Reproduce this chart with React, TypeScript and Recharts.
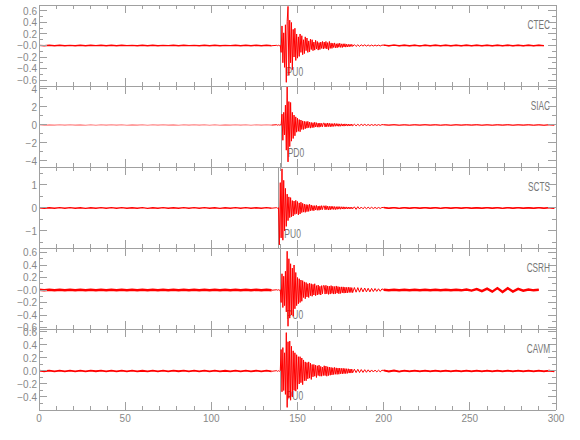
import React from 'react';
import { LineChart, Line, XAxis, YAxis, ReferenceLine } from 'recharts';

// ---- time grid segments (seconds): [start, step] ----
const PRE_GRID: [number, number] = [0, 3];
const ONSET_GRID: [number, number] = [138, 0.5];
const CODA_GRID: [number, number] = [165.5, 0.5];
const TAIL_GRID: [number, number] = [183, 1];
const POST_GRID: [number, number] = [200, 3];

// ---- x axis ticks ----
const X_TICKS = [0, 10, 20, 30, 40, 50, 60, 70, 80, 90, 100, 110, 120, 130, 140, 150, 160, 170, 180, 190, 200, 210, 220, 230, 240, 250, 260, 270, 280, 290, 300];
const X_LABELED = [0, 50, 100, 150, 200, 250, 300];

// ---- CTEC ----
const CTEC_PRE = [0.003,-0.004,0.005,-0.003,0.004,-0.005,0.002,-0.004,0.005,-0.003,0.004,-0.002,0.005,-0.004,0.003,-0.005,0.004,-0.003,0.002,-0.004,0.005,-0.003,0.004,-0.005,0.003,-0.002,0.004,-0.004,0.005,-0.003,0.002,-0.005,0.004,-0.003,0.005,-0.004,0.003,-0.002,0.004,-0.005,0.003,-0.004,0.005,-0.003,0.004,-0.004];
const CTEC_ONSET = [0.003,-0.004,0.004,-0.003,0.005,-0.12,0.34,-0.3,0.22,-0.38,0.36,-0.64,0.42,0.68,-0.52,0.44,-0.3,0.4,-0.42,0.28,-0.2,0.3,-0.26,0.2,-0.22,0.15,-0.19,0.2,-0.12,0.17,-0.16,0.1,-0.14,0.15,-0.09,0.13,-0.12,0.08,-0.11,0.11,-0.07,0.1,-0.09,0.06,-0.08,0.09,-0.06,0.07,-0.08,0.05,-0.07,0.06,-0.05,0.07,-0.06];
const CTEC_CODA = [0.06,-0.05,0.07,-0.06,0.05,-0.08,0.07,-0.05,0.045,-0.05,0.04,-0.035,0.045,-0.04,0.03,-0.04,0.035,-0.03,0.04,-0.032,0.028,-0.035,0.03,-0.025,0.03,-0.028,0.022,-0.025,0.02,-0.022,0.02,-0.018,0.02,-0.016];
const CTEC_TAIL = [0.015,-0.016,0.012,-0.014,0.012,-0.01,0.012,-0.01,0.009,-0.01,0.008,-0.009,0.008,-0.007,0.007,-0.008,0.006];
const CTEC_POST = [0.006,-0.005,0.006,-0.004,0.005,-0.005,0.004,-0.006,0.005,-0.004,0.005,-0.003,0.004,-0.005,0.003,-0.004,0.005,-0.003,0.004,-0.004,0.003,-0.005,0.004,-0.003,0.005,-0.004,0.003,-0.004,0.005,-0.003,0.004,-0.003];
const CTEC_DOMAIN: [number, number] = [-0.704, 0.704];
const CTEC_Y_TICKS = [-0.6,-0.5,-0.4,-0.3,-0.2,-0.1,0,0.1,0.2,0.3,0.4,0.5,0.6];
const CTEC_Y_LABELS: [number, string][] = [[0.6,'0.6'],[0.4,'0.4'],[0.2,'0.2'],[0,'\u22120.0'],[-0.2,'\u22120.2'],[-0.4,'\u22120.4'],[-0.6,'\u22120.6']];

// ---- SIAC ----
const SIAC_PRE = [0.02,-0.025,0.015,-0.02,0.03,-0.015,0.025,-0.02,0.015,-0.03,0.02,-0.025,0.025,-0.015,0.02,-0.02,0.03,-0.025,0.015,-0.02,0.025,-0.03,0.02,-0.015,0.025,-0.02,0.015,-0.025,0.03,-0.02,0.02,-0.015,0.025,-0.025,0.02,-0.03,0.015,-0.02,0.025,-0.015,0.03,-0.025,0.02,-0.02,0.025,-0.015];
const SIAC_ONSET = [0.03,-0.03,0.025,-0.02,0.03,-0.04,1.2,-1.7,1.4,-1.1,2.2,-2.8,4.3,-4.1,2.6,-2.4,2.5,-1.8,1.4,-1.5,1.1,-1.2,0.9,-0.8,0.75,-0.7,0.6,-0.75,0.55,-0.5,0.45,-0.5,0.4,-0.42,0.38,-0.35,0.4,-0.3,0.32,-0.35,0.28,-0.3,0.25,-0.28,0.3,-0.22,0.25,-0.24,0.2,-0.25,0.22,-0.2,0.18,-0.2,0.2];
const SIAC_CODA = [0.2,-0.22,0.18,-0.2,0.22,-0.17,0.18,-0.2,0.16,-0.18,0.15,-0.16,0.17,-0.14,0.15,-0.13,0.14,-0.15,0.12,-0.14,0.13,-0.12,0.11,-0.13,0.12,-0.1,0.11,-0.12,0.1,-0.11,0.09,-0.1,0.1,-0.09];
const SIAC_TAIL = [0.08,-0.09,0.07,-0.08,0.07,-0.06,0.07,-0.06,0.05,-0.06,0.05,-0.05,0.045,-0.05,0.04,-0.045,0.04];
const SIAC_POST = [0.025,-0.02,0.03,-0.025,0.02,-0.025,0.025,-0.02,0.03,-0.02,0.025,-0.025,0.02,-0.03,0.025,-0.02,0.025,-0.015,0.03,-0.025,0.02,-0.025,0.025,-0.02,0.03,-0.025,0.02,-0.02,0.025,-0.025,0.02,-0.03,0.025,-0.02];
const SIAC_DOMAIN: [number, number] = [-4.67, 4.33];
const SIAC_Y_TICKS = [-4,-3,-2,-1,0,1,2,3,4];
const SIAC_Y_LABELS: [number, string][] = [[4,'4'],[2,'2'],[0,'0'],[-2,'\u22122'],[-4,'\u22124']];

// ---- SCTS ----
const SCTS_PRE = [0.012,-0.015,0.01,-0.012,0.016,-0.01,0.014,-0.013,0.01,-0.016,0.012,-0.014,0.015,-0.01,0.013,-0.012,0.016,-0.015,0.01,-0.013,0.014,-0.016,0.012,-0.01,0.015,-0.013,0.01,-0.014,0.016,-0.012,0.013,-0.01,0.014,-0.015,0.012,-0.016,0.01,-0.013,0.015,-0.01,0.016,-0.014,0.012,-0.012,0.014,-0.01];
const SCTS_ONSET = [0.012,-0.014,0.01,-1.6,1.1,-1.3,1.7,-1.4,1.2,-1.0,0.85,-0.8,0.6,-0.55,0.48,-0.42,0.45,-0.38,0.32,-0.35,0.3,-0.28,0.33,-0.25,0.28,-0.3,0.22,-0.26,0.25,-0.2,0.2,-0.18,0.17,-0.19,0.15,-0.16,0.14,-0.15,0.16,-0.12,0.13,-0.11,0.1,-0.12,0.1,-0.09,0.11,-0.1,0.08,-0.1,0.09,-0.08,0.1,-0.07,0.08];
const SCTS_CODA = [0.09,-0.08,0.1,-0.07,0.08,-0.09,0.07,-0.08,0.075,-0.06,0.07,-0.065,0.06,-0.07,0.055,-0.06,0.06,-0.05,0.055,-0.055,0.05,-0.045,0.05,-0.05,0.045,-0.04,0.045,-0.045,0.04,-0.04,0.038,-0.04,0.035,-0.038];
const SCTS_TAIL = [0.05,-0.06,0.055,-0.045,0.04,-0.035,0.035,-0.03,0.032,-0.028,0.03,-0.026,0.025,-0.025,0.022,-0.02,0.02];
const SCTS_POST = [0.018,-0.015,0.016,-0.018,0.014,-0.015,0.016,-0.012,0.015,-0.014,0.013,-0.016,0.015,-0.012,0.014,-0.013,0.016,-0.015,0.012,-0.014,0.015,-0.012,0.013,-0.016,0.014,-0.012,0.015,-0.013,0.012,-0.015,0.014,-0.012,0.013,-0.014];
const SCTS_DOMAIN: [number, number] = [-1.74, 1.78];
const SCTS_Y_TICKS = [-1.5,-1,-0.5,0,0.5,1,1.5];
const SCTS_Y_LABELS: [number, string][] = [[1,'1'],[0,'0'],[-1,'\u22121']];

// ---- CSRH ----
const CSRH_PRE = [0.004,-0.003,0.004,-0.003,0.003,-0.004,0.003,-0.004,0.005,-0.003,0.004,-0.004,0.003,-0.004,0.004,-0.003,0.004,-0.004,0.003,-0.005,0.004,-0.003,0.003,-0.004,0.004,-0.003,0.003,-0.004,0.004,-0.003,0.005,-0.004,0.003,-0.004,0.003,-0.004,0.004,-0.003,0.004,-0.004,0.003,-0.004,0.004,-0.003,0.004,-0.004];
const CSRH_ONSET = [0.004,-0.003,0.004,-0.004,0.003,-0.2,0.26,-0.28,0.22,-0.25,0.3,-0.35,0.62,-0.58,0.5,-0.45,0.42,-0.4,0.35,-0.42,0.4,-0.3,0.28,-0.25,0.2,-0.22,0.18,-0.2,0.16,-0.18,0.15,-0.12,0.13,-0.14,0.12,-0.11,0.1,-0.12,0.11,-0.09,0.1,-0.1,0.09,-0.08,0.1,-0.09,0.07,-0.08,0.08,-0.07,0.06,-0.08,0.07,-0.06,0.07];
const CSRH_CODA = [0.07,-0.065,0.075,-0.06,0.065,-0.07,0.06,-0.065,0.07,-0.055,0.06,-0.065,0.055,-0.06,0.065,-0.05,0.055,-0.06,0.05,-0.055,0.05,-0.045,0.05,-0.05,0.045,-0.048,0.042,-0.045,0.045,-0.04,0.042,-0.04,0.038,-0.042];
const CSRH_TAIL = [0.04,-0.035,0.038,-0.034,0.035,-0.03,0.032,-0.03,0.028,-0.03,0.026,-0.025,0.024,-0.022,0.02,-0.02,0.018];
const CSRH_POST = [0.005,-0.004,0.004,-0.005,0.004,-0.004,0.005,-0.004,0.004,-0.004,0.004,-0.004,0.005,-0.004,0.004,-0.005,0.008,-0.01,0.014,-0.018,0.022,-0.026,0.03,-0.032,0.028,-0.024,0.018,-0.012,0.008,-0.005,0.004];
const CSRH_DOMAIN: [number, number] = [-0.624, 0.672];
const CSRH_Y_TICKS = [-0.6,-0.5,-0.4,-0.3,-0.2,-0.1,0,0.1,0.2,0.3,0.4,0.5,0.6];
const CSRH_Y_LABELS: [number, string][] = [[0.6,'0.6'],[0.4,'0.4'],[0.2,'0.2'],[0,'\u22120.0'],[-0.2,'\u22120.2'],[-0.4,'\u22120.4'],[-0.6,'\u22120.6']];

// ---- CAVM ----
const CAVM_PRE = [0.005,-0.004,0.006,-0.005,0.0045,-0.006,0.0055,-0.0045,0.005,-0.0055,0.006,-0.004,0.005,-0.006,0.0045,-0.005,0.0055,-0.0045,0.006,-0.005,0.004,-0.0055,0.005,-0.006,0.0045,-0.005,0.006,-0.004,0.0055,-0.005,0.0045,-0.006,0.005,-0.0045,0.006,-0.0055,0.004,-0.005,0.0055,-0.0045,0.005,-0.006,0.0045,-0.005,0.006,-0.0045];
const CAVM_ONSET = [0.005,-0.006,0.0045,-0.005,0.0055,0.33,-0.32,0.36,-0.3,0.28,-0.36,0.59,-0.56,0.45,-0.42,0.46,-0.45,0.38,-0.4,0.31,-0.3,0.28,-0.31,0.25,-0.28,0.22,-0.2,0.22,-0.18,0.2,-0.21,0.17,-0.15,0.14,-0.15,0.13,-0.12,0.14,-0.11,0.12,-0.13,0.1,-0.09,0.1,-0.08,0.09,-0.1,0.08,-0.07,0.09,-0.08,0.07,-0.08,0.06,-0.07];
const CAVM_CODA = [0.08,-0.07,0.075,-0.08,0.065,-0.07,0.06,-0.065,0.055,-0.06,0.05,-0.055,0.055,-0.05,0.048,-0.052,0.045,-0.05,0.045,-0.042,0.04,-0.045,0.042,-0.04,0.038,-0.04,0.035,-0.036,0.034,-0.032,0.03,-0.032,0.03,-0.028];
const CAVM_TAIL = [0.028,-0.025,0.026,-0.024,0.022,-0.022,0.02,-0.02,0.018,-0.017,0.016,-0.015,0.014,-0.014,0.012,-0.012,0.011];
const CAVM_POST = [0.009,-0.0075,0.007,-0.008,0.0065,-0.006,0.007,-0.006,0.0055,-0.0065,0.006,-0.005,0.0055,-0.006,0.005,-0.0055,0.006,-0.005,0.0045,-0.0055,0.005,-0.006,0.0055,-0.0045,0.005,-0.0055,0.006,-0.005,0.0045,-0.005,0.0055,-0.0045,0.005,-0.0055];
const CAVM_DOMAIN: [number, number] = [-0.6, 0.646];
const CAVM_Y_TICKS = [-0.6,-0.5,-0.4,-0.3,-0.2,-0.1,0,0.1,0.2,0.3,0.4,0.5,0.6];
const CAVM_Y_LABELS: [number, string][] = [[0.6,'0.6'],[0.4,'0.4'],[0.2,'0.2'],[0,'0.0'],[-0.2,'\u22120.2'],[-0.4,'\u22120.4']];

// ---- picks ----
const STATIONS = ['CTEC', 'SIAC', 'SCTS', 'CSRH', 'CAVM'];
const PICK_TIMES = [140.2, 140.8, 138.9, 140.2, 140.2];
const PICK_LABELS = ['PU0', 'PD0', 'PU0', 'PU0', 'PU0'];

type Pt = { t: number; q: number | null; v: number | null };
function buildTrace(pre: number[], onset: number[], coda: number[], tail: number[], post: number[]): Pt[] {
  const pts: Pt[] = [];
  const seg = (vals: number[], g: [number, number], quiet: boolean) =>
    vals.forEach((val, i) =>
      pts.push({ t: g[0] + i * g[1], q: quiet ? val : null, v: quiet ? null : val })
    );
  seg(pre, PRE_GRID, true);
  seg(onset, ONSET_GRID, false);
  seg(coda, CODA_GRID, false);
  seg(tail, TAIL_GRID, false);
  seg(post, POST_GRID, true);
  // join the quiet and active pieces at their boundaries
  for (let i = 0; i < pts.length - 1; i++) {
    const a = pts[i];
    const b = pts[i + 1];
    if (a.q !== null && a.v === null && b.v !== null) a.v = a.q;
    if (a.v !== null && b.q !== null && b.v === null) b.v = b.q;
  }
  return pts;
}

// ---- layout / style ----
const W = 580;
const TOP = 5;
const PH = 81;
const PAD = 20;
const LEFT_W = 39;
const RIGHT_M = 23;
const AXIS = '#a0a0a0';
const TEXT = '#888888';
const NAME = '#777777';
const RED = '#ff0000';
const FONT = '"Liberation Sans", Arial, sans-serif';
const MAJ = 8;
const MIN = 4;

const PANELS = [
  { data: buildTrace(CTEC_PRE, CTEC_ONSET, CTEC_CODA, CTEC_TAIL, CTEC_POST), domain: CTEC_DOMAIN, ticks: CTEC_Y_TICKS, labels: CTEC_Y_LABELS, qw: 1.4, qo: 1 },
  { data: buildTrace(SIAC_PRE, SIAC_ONSET, SIAC_CODA, SIAC_TAIL, SIAC_POST), domain: SIAC_DOMAIN, ticks: SIAC_Y_TICKS, labels: SIAC_Y_LABELS, qw: 1.1, qo: 0.5 },
  { data: buildTrace(SCTS_PRE, SCTS_ONSET, SCTS_CODA, SCTS_TAIL, SCTS_POST), domain: SCTS_DOMAIN, ticks: SCTS_Y_TICKS, labels: SCTS_Y_LABELS, qw: 1.4, qo: 1 },
  { data: buildTrace(CSRH_PRE, CSRH_ONSET, CSRH_CODA, CSRH_TAIL, CSRH_POST), domain: CSRH_DOMAIN, ticks: CSRH_Y_TICKS, labels: CSRH_Y_LABELS, qw: 2.4, qo: 1 },
  { data: buildTrace(CAVM_PRE, CAVM_ONSET, CAVM_CODA, CAVM_TAIL, CAVM_POST), domain: CAVM_DOMAIN, ticks: CAVM_Y_TICKS, labels: CAVM_Y_LABELS, qw: 1.8, qo: 1 },
];

const labelFor = (labels: [number, string][], v: number) => {
  const hit = labels.find(([lv]) => Math.abs(lv - v) < 1e-6);
  return hit ? hit[1] : null;
};

function PickLabel(props: any) {
  const vb = props.viewBox || {};
  const x = (vb.x || 0) + 6;
  const y = (vb.y || 0) + (vb.height || 0) - 10;
  return (
    <text transform={`translate(${x} ${y}) scale(0.68 1)`} fill={NAME} fontSize={12.5} fontFamily={FONT}>
      {props.text}
    </text>
  );
}

function Panel({ p, i, last }: { p: any; i: number; last: boolean }) {
  const bottomTick = (props: any) => {
    const { x, y, payload } = props;
    const major = X_LABELED.includes(payload.value);
    return (
      <g>
        <line x1={x} x2={x} y1={y} y2={y - (major ? MAJ : MIN)} stroke={AXIS} shapeRendering="crispEdges" />
        {last && major ? (
          <text x={x} y={y + 12} textAnchor="middle" fill={TEXT} fontSize={10} fontFamily={FONT}>
            {payload.value}
          </text>
        ) : null}
      </g>
    );
  };
  const topTick = (props: any) => {
    const { x, y, payload } = props;
    const major = X_LABELED.includes(payload.value);
    return <line x1={x} x2={x} y1={y} y2={y + (major ? MAJ : MIN)} stroke={AXIS} shapeRendering="crispEdges" />;
  };
  const leftTick = (props: any) => {
    const { x, y, payload } = props;
    const lab = labelFor(p.labels, payload.value);
    const major = lab !== null;
    return (
      <g>
        <line x1={x} x2={x + (major ? MAJ : MIN)} y1={y} y2={y} stroke={AXIS} shapeRendering="crispEdges" />
        {lab !== null ? (
          <text x={x - 2} y={y + 3.6} textAnchor="end" fill={TEXT} fontSize={10} fontFamily={FONT}>
            {lab}
          </text>
        ) : null}
      </g>
    );
  };
  const rightTick = (props: any) => {
    const { x, y, payload } = props;
    const major = labelFor(p.labels, payload.value) !== null;
    return <line x1={x} x2={x - (major ? MAJ : MIN)} y1={y} y2={y} stroke={AXIS} shapeRendering="crispEdges" />;
  };

  return (
    <div style={{ position: 'absolute', left: 0, top: TOP + i * PH - PAD, width: W, height: PH + 2 * PAD }}>
      <LineChart
        width={W}
        height={PH + 2 * PAD}
        data={p.data}
        margin={{ top: PAD - 1, bottom: PAD - 1, left: 0, right: RIGHT_M }}
      >
        <XAxis
          xAxisId="b"
          dataKey="t"
          type="number"
          domain={[0, 300]}
          ticks={X_TICKS}
          interval={0}
          height={1}
          tickSize={0}
          tickMargin={0}
          tickLine={false}
          axisLine={{ stroke: AXIS, shapeRendering: 'crispEdges' }}
          tick={bottomTick}
          allowDataOverflow
        />
        <XAxis
          xAxisId="t"
          orientation="top"
          dataKey="t"
          type="number"
          domain={[0, 300]}
          ticks={X_TICKS}
          interval={0}
          height={1}
          tickSize={0}
          tickMargin={0}
          tickLine={false}
          axisLine={{ stroke: AXIS, shapeRendering: 'crispEdges' }}
          tick={topTick}
          allowDataOverflow
        />
        <YAxis
          yAxisId="l"
          type="number"
          domain={p.domain}
          ticks={p.ticks}
          interval={0}
          width={LEFT_W}
          tickSize={0}
          tickMargin={0}
          tickLine={false}
          axisLine={{ stroke: AXIS, shapeRendering: 'crispEdges' }}
          tick={leftTick}
          allowDataOverflow
        />
        <YAxis
          yAxisId="r"
          orientation="right"
          type="number"
          domain={p.domain}
          ticks={p.ticks}
          interval={0}
          width={1}
          tickSize={0}
          tickMargin={0}
          tickLine={false}
          axisLine={{ stroke: AXIS, shapeRendering: 'crispEdges' }}
          tick={rightTick}
          allowDataOverflow
        />
        <ReferenceLine
          xAxisId="b"
          yAxisId="l"
          x={PICK_TIMES[i]}
          stroke={AXIS}
          strokeWidth={1}
          shapeRendering="crispEdges"
          label={<PickLabel text={PICK_LABELS[i]} />}
        />
        <Line
          xAxisId="b"
          yAxisId="l"
          type="linear"
          dataKey="q"
          stroke={RED}
          strokeWidth={p.qw}
          strokeOpacity={p.qo}
          dot={false}
          activeDot={false}
          connectNulls={false}
          isAnimationActive={false}
        />
        <Line
          xAxisId="b"
          yAxisId="l"
          type="linear"
          dataKey="v"
          stroke={RED}
          strokeWidth={1}
          dot={false}
          activeDot={false}
          connectNulls={false}
          isAnimationActive={false}
        />
      </LineChart>
    </div>
  );
}

export default function App() {
  return (
    <div style={{ position: 'absolute', left: 0, top: 0, width: W, height: 440, background: '#fff' }}>
      <style>{`svg.recharts-surface{overflow:visible}`}</style>
      {PANELS.map((p, i) => (
        <Panel key={STATIONS[i]} p={p} i={i} last={i === PANELS.length - 1} />
      ))}
      <svg width={W} height={440} style={{ position: 'absolute', left: 0, top: 0, pointerEvents: 'none' }}>
        {STATIONS.map((s, i) => (
          <text
            key={s}
            transform={`translate(550 ${TOP + i * PH + 24}) scale(0.66 1)`}
            textAnchor="end"
            fill={NAME}
            fontSize={12.5}
            fontFamily={FONT}
          >
            {s}
          </text>
        ))}
      </svg>
    </div>
  );
}
